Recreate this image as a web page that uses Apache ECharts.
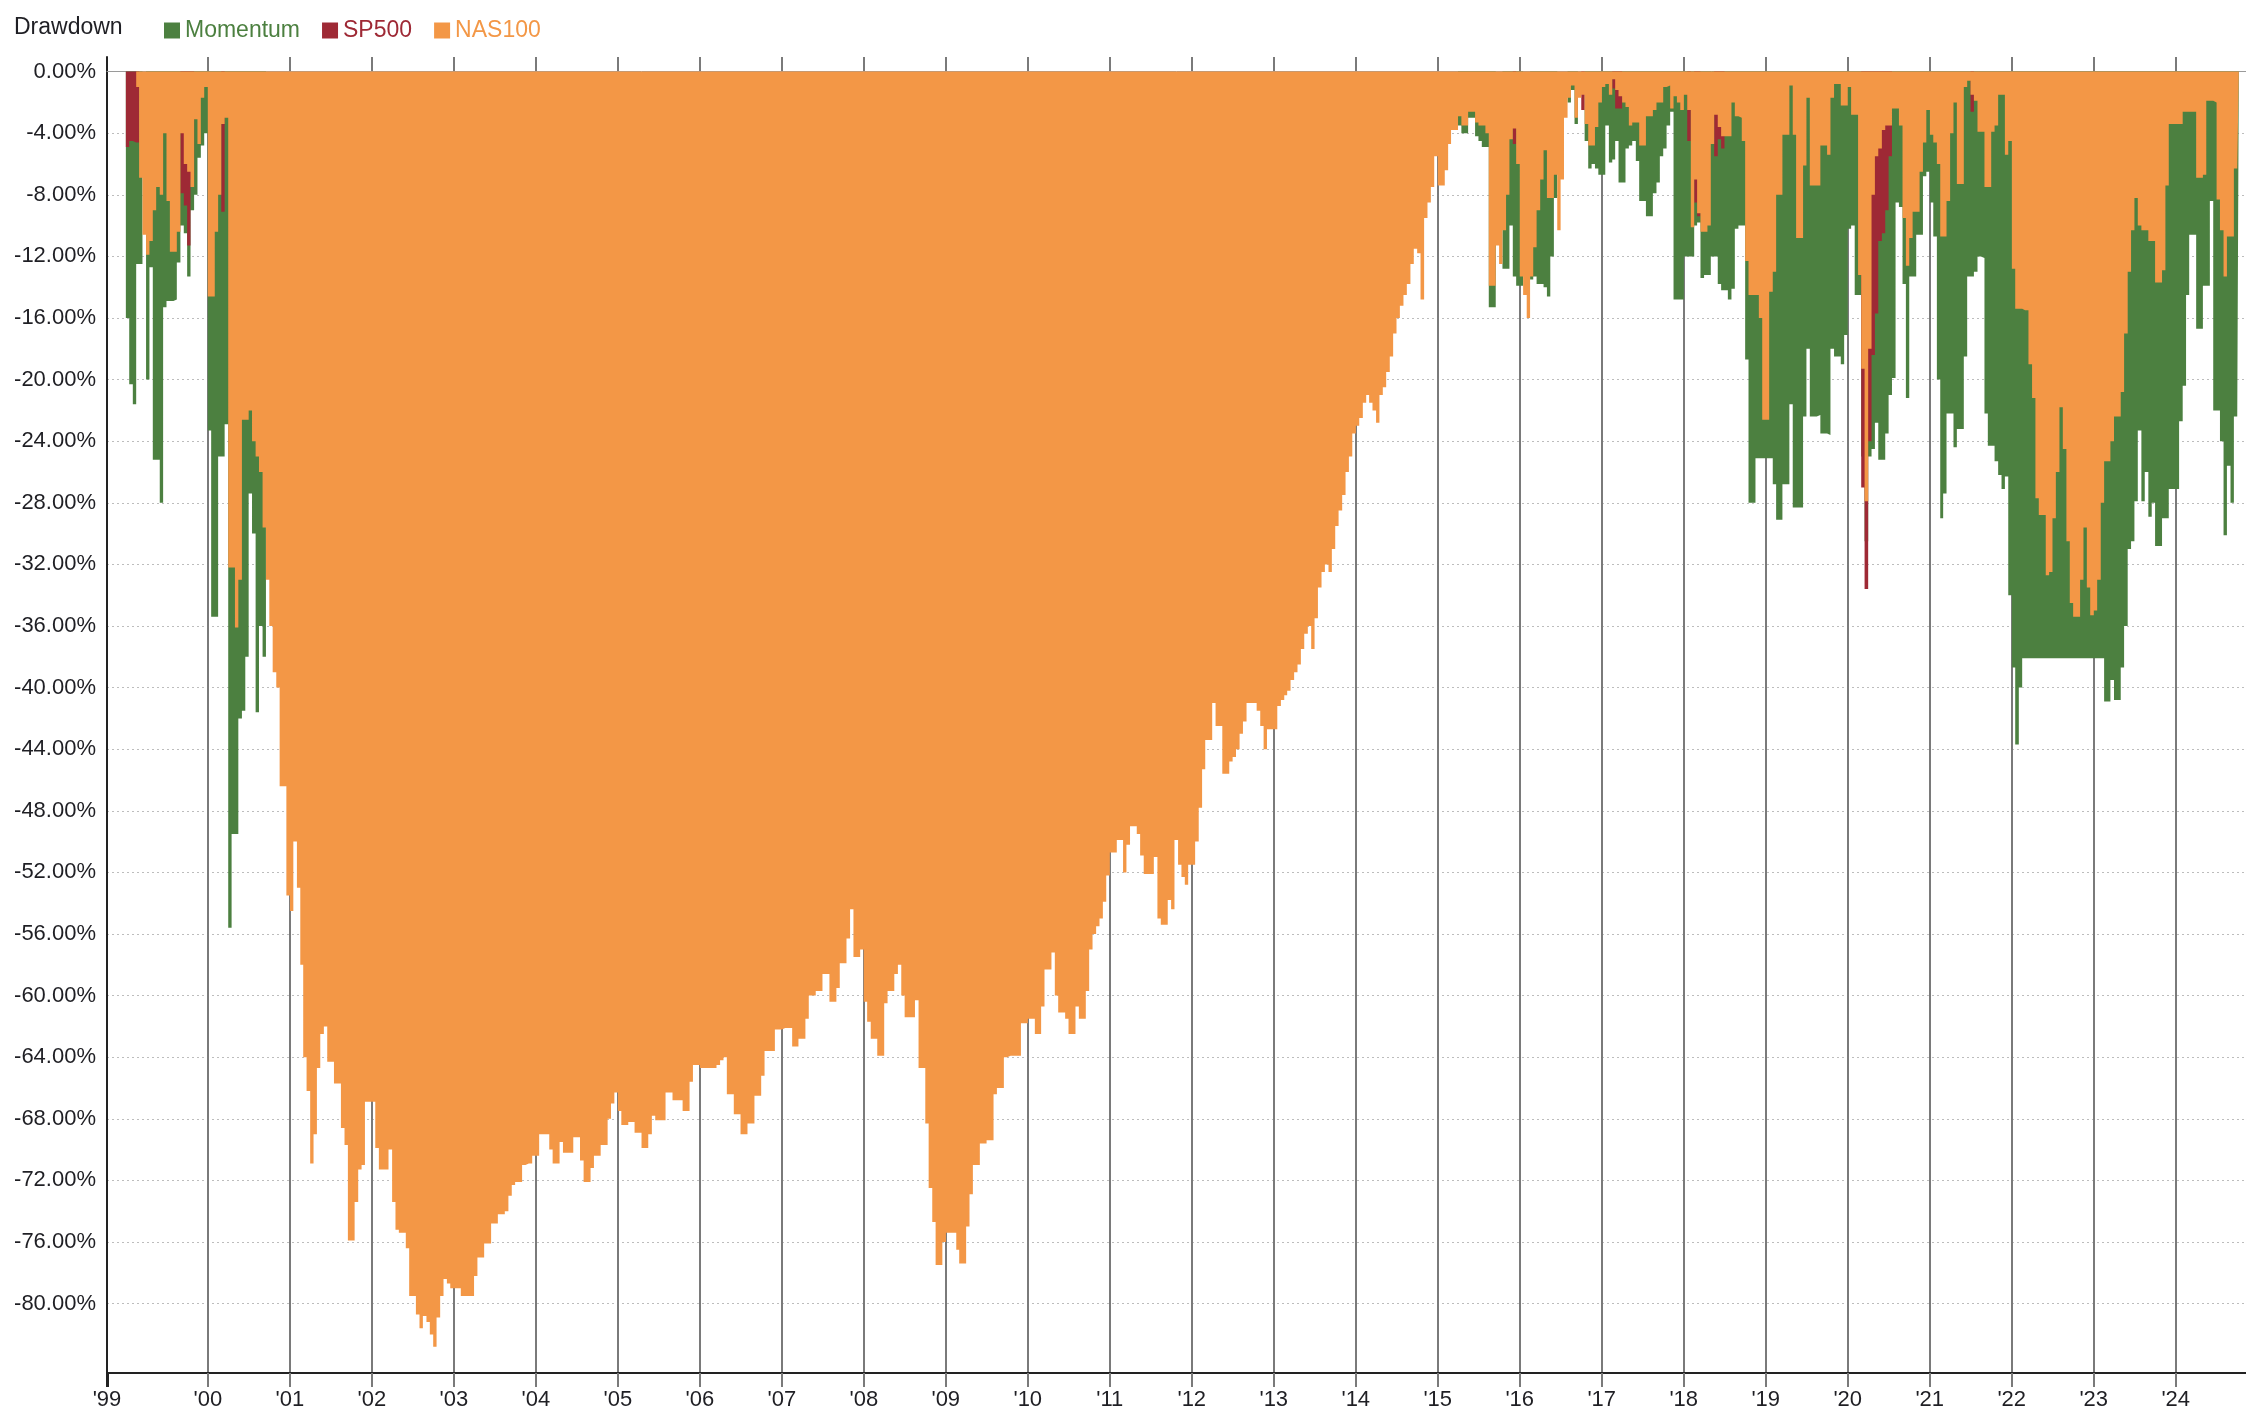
<!DOCTYPE html>
<html><head><meta charset="utf-8">
<style>html,body{margin:0;padding:0;background:#fff}#c{width:2246px;height:1422px}</style>
<script src="https://cdn.jsdelivr.net/npm/echarts@6.0.0/dist/echarts.min.js"></script>
</head><body><div id="c"></div>
<script>
const _ = null;
// semi-monthly sample dates (1st and 16th of each month), Jan 1999 .. Oct 2024
const dates = [];
for (let y = 1999; y <= 2024; y++) for (let m = 0; m < 12; m++) for (const d of [1, 16]) {
  const t = Date.UTC(y, m, d); if (t <= Date.UTC(2024, 9, 1)) dates.push(t);
}
const dataEnd = Date.UTC(2024, 9, 8);
const seriesNames = ['Momentum', 'SP500', 'NAS100'];
const firstYearLabel = "'99";

const nas100 = [
/*1999*/ 0,0,0,-1,-6.9,-10.6,-11.9,-11,-9,-7.5,-8,-4,-8.4,-11.7,-11.7,-10.4,-4,-6,-6.5,-7.5,-3.1,-4.7,-1.7,-1,
/*2000*/ -14.6,-14.6,-10.4,-8,-3.4,-3,-32.2,-32.2,-36.1,-33,-22.6,-22.6,-22,-24,-25,-26,-29.6,-33,-36,-39,-40,-46.4,-46.4,-53.5,
/*2001*/ -54.5,-50,-53,-58,-64,-66.2,-70.9,-69,-64.7,-62.5,-62,-64.3,-64.3,-65.7,-65.7,-68.6,-69.7,-75.9,-75.9,-73.4,-71.3,-71,-66.9,-66.9,
/*2002*/ -66.9,-69.9,-71.3,-71.3,-71.3,-70,-73.4,-75.2,-75.4,-75.4,-76.4,-79.5,-79.5,-80.7,-81.6,-80.8,-81.2,-82,-82.8,-80.9,-79.5,-78.4,-78.7,-79,
/*2003*/ -79,-79,-79.5,-79.5,-79.5,-79.5,-78.2,-77,-77,-76.1,-76.1,-74.8,-74.8,-74.2,-74.2,-74,-73,-72.3,-72.1,-72.1,-71,-70.9,-70.9,-70.4,
/*2004*/ -70.4,-69,-69,-69,-70,-70.9,-70.9,-69.5,-70.2,-70.2,-70.2,-69.2,-69.2,-70.7,-72.1,-72.1,-71.2,-70.4,-70.4,-69.7,-69.7,-68,-67,-66.3,
/*2005*/ -67.5,-68.4,-68.4,-68.2,-68.2,-68.9,-68.9,-69.9,-69.9,-69,-67.8,-68.1,-68.1,-68.1,-66.3,-66.3,-66.8,-66.8,-66.8,-67.5,-67.5,-65.6,-64.5,-64.5,
/*2006*/ -64.7,-64.7,-64.7,-64.7,-64.7,-64.5,-64.2,-64,-66.4,-66.4,-67.7,-67.7,-69,-69,-68.3,-68.3,-66.5,-66.5,-65.2,-63.6,-63.6,-63.6,-62.2,-62.2,
/*2007*/ -62.1,-62.1,-62.1,-63.3,-63.3,-62.8,-62.8,-61.5,-60,-60,-59.7,-59.7,-58.6,-58.6,-60.4,-60.4,-59.5,-57.9,-57.9,-56.3,-54.4,-57.5,-57.5,-57,
/*2008*/ -60.4,-61.7,-62.8,-62.8,-63.9,-63.9,-60.5,-59.7,-59.7,-58.6,-58,-60,-61.4,-61.4,-61.4,-60.3,-64.7,-64.7,-68.3,-72.5,-74.7,-77.5,-77.5,-76,
/*2009*/ -75.4,-75.4,-75.4,-76.5,-77.4,-77.4,-75,-72.9,-71,-71,-69.6,-69.6,-69.4,-69.4,-66.4,-66,-66,-64,-63.9,-63.9,-63.9,-63.9,-61.8,-61.8,
/*2010*/ -61.5,-61.5,-62.5,-62.5,-60.7,-58.3,-58.3,-57.2,-60,-61.1,-61.1,-61.5,-62.5,-62.5,-60.7,-61.5,-61.5,-59.7,-57,-56,-55.5,-55,-53.9,-52.2,
/*2011*/ -50.7,-50.7,-49.9,-49.9,-52,-50.2,-49,-49,-49.5,-50.9,-52.1,-52.1,-52.1,-51,-55,-55.4,-55.4,-53.8,-54.4,-49.9,-51.5,-52.3,-52.8,-51.5,
/*2012*/ -51.5,-50,-47.8,-45.3,-43.4,-43.4,-41,-42.5,-42.5,-45.6,-45.6,-44.8,-44.5,-44,-43,-42.2,-41,-41,-41,-41.5,-42.5,-44,-42.7,-42.7,
/*2013*/ -42.7,-41.2,-40.8,-40.5,-40.2,-39.5,-39,-38.5,-37.5,-36.5,-36,-37.5,-35.5,-33.5,-32.5,-32,-32.5,-31,-29.5,-28.5,-27.5,-26,-25,-23.5,
/*2014*/ -23,-22.5,-21.5,-21,-21.5,-22,-22.8,-21,-20.5,-19.5,-18.5,-17,-16,-15.2,-14.5,-13.8,-12.5,-11.5,-11.8,-14.8,-9.5,-8.5,-7.5,-5.5,
/*2015*/ -7.4,-7.4,-6.4,-4.7,-3.8,-3.8,-2.9,-3.5,-3.5,-2.6,-2.6,-3.3,-3.5,-3.5,-4,-13.9,-13.9,-11.3,-12.5,-10.3,-8,-4.4,-3.7,-6,
/*2016*/ -13.3,-14.5,-16,-13.3,-11.4,-9,-7,-5.1,-8.2,-8.2,-6.7,-10.3,-7,-3,-1.7,-0.9,-3,-1.7,-1.5,-3.4,-4.8,-4.8,-3.6,-2,
/*2017*/ -1,-0.8,-1.5,-0.5,-1.2,-1.6,-2,-2.3,-3.5,-3.3,-3.3,-4.8,-4.8,-2.9,-2.9,-2.5,-2,-2,-1,-0.9,-2.4,-1.6,-2,-2.5,
/*2018*/ -1.5,-2.5,-10.1,-7,-9.2,-10.4,-10.4,-10,-4.7,-2.8,-3.6,-4.2,-4.2,-4.2,-2,-2.9,-3,-4.5,-12.3,-14.5,-14.5,-14.5,-16,-22.6,
/*2019*/ -22.6,-14.3,-13,-8,-8,-4.1,-4.1,-0.9,-4.1,-10.8,-10.8,-6.1,-1.7,-7.4,-7.4,-7.4,-4.8,-4.8,-5.4,-1.7,-0.8,-0.8,-2.2,-2.2,
/*2020*/ -1,-2.8,-2.8,-13.2,-19.3,-27.9,-18,-8,-5.5,-5,-3.8,-3.5,-3.5,-2.4,-2.4,-3.5,-9.5,-12.6,-10.8,-9.1,-9.1,-6.5,-4.6,-2.5,
/*2021*/ -4.1,-4.6,-6,-10.7,-10.7,-8.4,-4,-2,-7.3,-7.3,-1,-0.6,-1.5,-1.9,-3.9,-3.9,-7.5,-7.5,-3.9,-3.5,-1.5,-1.5,-5.4,-4.5,
/*2022*/ -12.8,-15.4,-15.4,-15.5,-15.5,-19,-21.2,-27.7,-28.8,-28.8,-32.7,-32.5,-29,-26,-21.8,-24.5,-30.5,-34.5,-35.4,-35.4,-33,-29.6,-33.5,-35.3,
/*2023*/ -35,-33,-28,-25.3,-25.3,-24,-22.4,-22.4,-20.8,-17,-13,-10.3,-8.2,-10,-10.3,-10.3,-11,-11,-13.7,-13.7,-12.9,-7.4,-3.4,-3.4,
/*2024*/ -3.4,-3.4,-2.6,-2.6,-2.6,-2.6,-6.9,-6.9,-6.7,-1.9,-1.9,-2,-8.3,-10.3,-13.3,-10.7,-10.7,-6.3,-6.3
];

// Momentum: null where it is fully hidden behind the other series
const momentum = [
/*1999*/ -16,-20.3,-21.6,-12.5,-12.5,_,-20,-12.7,-25.2,-25.2,-28,-15.3,-14.9,-14.9,-14.8,-12.4,-10,-10.5,-13.3,-9,-8,-5.6,-4.8,-4,
/*2000*/ -23.3,-35.4,-35.4,-25,-25,-22.9,-55.6,-49.5,-49.5,-42,-41.5,-38,-27.4,-30,-41.6,-36,-38,_,_,_,_,_,_,_,
/*2001*/ _,_,_,_,_,_,_,_,_,_,_,_,_,_,_,_,_,_,_,_,_,_,_,_,
/*2002*/ _,_,_,_,_,_,_,_,_,_,_,_,_,_,_,_,_,_,_,_,_,_,_,_,
/*2003*/ _,_,_,_,_,_,_,_,_,_,_,_,_,_,_,_,_,_,_,_,_,_,_,_,
/*2004*/ _,_,_,_,_,_,_,_,_,_,_,_,_,_,_,_,_,_,_,_,_,_,_,_,
/*2005*/ _,_,_,_,_,_,_,_,_,_,_,_,_,_,_,_,_,_,_,_,_,_,_,_,
/*2006*/ _,_,_,_,_,_,_,_,_,_,_,_,_,_,_,_,_,_,_,_,_,_,_,_,
/*2007*/ _,_,_,_,_,_,_,_,_,_,_,_,_,_,_,_,_,_,_,_,_,_,_,_,
/*2008*/ _,_,_,_,_,_,_,_,_,_,_,_,_,_,_,_,_,_,_,_,_,_,_,_,
/*2009*/ _,_,_,_,_,_,_,_,_,_,_,_,_,_,_,_,_,_,_,_,_,_,_,_,
/*2010*/ _,_,_,_,_,_,_,_,_,_,_,_,_,_,_,_,_,_,_,_,_,_,_,_,
/*2011*/ _,_,_,_,_,_,_,_,_,_,_,_,_,_,_,_,_,_,_,_,_,_,_,_,
/*2012*/ _,_,_,_,_,_,_,_,_,_,_,_,_,_,_,_,_,_,_,_,_,_,_,_,
/*2013*/ _,_,_,_,_,_,_,_,_,_,_,_,_,_,_,_,_,_,_,_,_,_,_,_,
/*2014*/ _,_,_,_,_,_,_,_,_,_,_,_,_,_,_,_,_,_,_,_,_,_,_,_,
/*2015*/ _,_,_,_,_,_,-3.5,-4,-4,-3,-3,-4.2,-4.5,-4.9,-4.9,-15.3,-15.3,_,_,-12.8,-12.8,-10,-13.3,-13.9,
/*2016*/ -13.9,_,_,-13.5,-13.3,-13.8,-13.8,-14,-14.6,-12,-8.2,_,_,_,-2,-1.2,-3.4,_,_,-4.5,-6.3,-6,-6.3,-6.7,
/*2017*/ -6.7,-3.5,-5.9,-5.7,-4.5,-7.2,-7.2,-5,-4.8,-4.5,-5.8,-8.4,-8.4,-9.4,-9.4,-7.9,-7.2,-5.5,-5,-3.5,-2.6,-14.8,-14.8,-14.8,
/*2018*/ -12,-12,-12,-10,-9.8,-13.4,-13.2,-13.2,-12,-12,-13.8,-14.2,-14.2,-14.8,-14.1,-10.2,-10,-10,-18.7,-28,-28,-25.1,-25.1,-25.1,
/*2019*/ -25.1,-25.1,-26.8,-29.1,-29.1,-26.8,-26.8,-21.6,-28.3,-28.3,-28.3,-22.4,-18,-22.4,-22.4,-22.3,-23.5,-23.5,-23.6,-18,-18.5,-18.5,-19,-17.1,
/*2020*/ -10.2,-10,-14.5,-14.5,-25,-30.5,-25,-24.5,-22.8,-25.2,-25.2,-23.5,-21,-19.9,-8.5,-8.8,-13.8,-21.2,-13.3,-13.3,-10.6,-10.6,-6.8,-6.5,
/*2021*/ -8.5,-10.7,-20,-29,-27.4,-22.2,-22.2,-24.4,-23.2,-23.2,-18.5,-13.3,-13.3,-13,-12,-12.1,-22.2,-24.3,-24.3,-25.3,-26.2,-27.1,-26.3,-34,
/*2022*/ -38.7,-43.7,-40,-38.1,-38.1,-38.1,-38.1,-38.1,-38.1,-38.1,-38.1,-38.1,-38.1,-38.1,-38.1,-38.1,-38.1,-38.1,-38.1,-38.1,-38.1,-38.1,-38.1,-38.1,
/*2023*/ -38.1,-38.1,-38.1,-40.9,-40.9,-39.5,-40.8,-40.8,-38.7,-36,-31,-30.5,-27.9,-23.3,-27.9,-26,-28.9,-28,-30.8,-30.8,-29,-29,-27.1,-27.1,
/*2024*/ -27.1,-22.7,-20.4,-14.5,-10.6,-10.6,-16.7,-16.7,-13.9,-13.9,-8.4,-22,-22,-24,-30.1,-25.6,-28,-22.4,-22.4
];

// SP500: null where it is fully hidden behind NAS100
const sp500 = [
/*1999*/ -4.9,-4.5,-4.6,-4.6,_,_,_,_,_,_,_,_,_,_,_,_,-7.9,-8.7,-11.3,-7,_,_,_,_,
/*2000*/ _,_,_,_,-9.1,_,_,_,_,_,_,_,_,_,_,_,_,_,_,_,_,_,_,_,
/*2001*/ _,_,_,_,_,_,_,_,_,_,_,_,_,_,_,_,_,_,_,_,_,_,_,_,
/*2002*/ _,_,_,_,_,_,_,_,_,_,_,_,_,_,_,_,_,_,_,_,_,_,_,_,
/*2003*/ _,_,_,_,_,_,_,_,_,_,_,_,_,_,_,_,_,_,_,_,_,_,_,_,
/*2004*/ _,_,_,_,_,_,_,_,_,_,_,_,_,_,_,_,_,_,_,_,_,_,_,_,
/*2005*/ _,_,_,_,_,_,_,_,_,_,_,_,_,_,_,_,_,_,_,_,_,_,_,_,
/*2006*/ _,_,_,_,_,_,_,_,_,_,_,_,_,_,_,_,_,_,_,_,_,_,_,_,
/*2007*/ _,_,_,_,_,_,_,_,_,_,_,_,_,_,_,_,_,_,_,_,_,_,_,_,
/*2008*/ _,_,_,_,_,_,_,_,_,_,_,_,_,_,_,_,_,_,_,_,_,_,_,_,
/*2009*/ _,_,_,_,_,_,_,_,_,_,_,_,_,_,_,_,_,_,_,_,_,_,_,_,
/*2010*/ _,_,_,_,_,_,_,_,_,_,_,_,_,_,_,_,_,_,_,_,_,_,_,_,
/*2011*/ _,_,_,_,_,_,_,_,_,_,_,_,_,_,_,_,_,_,_,_,_,_,_,_,
/*2012*/ _,_,_,_,_,_,_,_,_,_,_,_,_,_,_,_,_,_,_,_,_,_,_,_,
/*2013*/ _,_,_,_,_,_,_,_,_,_,_,_,_,_,_,_,_,_,_,_,_,_,_,_,
/*2014*/ _,_,_,_,_,_,_,_,_,_,_,_,_,_,_,_,_,_,_,_,_,_,_,_,
/*2015*/ _,_,_,_,_,_,_,_,_,_,_,_,_,_,_,_,_,_,_,_,_,_,-4.7,_,
/*2016*/ _,_,_,_,_,_,_,_,_,_,_,_,_,_,_,_,_,_,-2.5,_,_,_,_,_,
/*2017*/ _,_,_,-1.1,-2.4,-2.4,_,_,_,_,_,_,_,_,_,_,_,_,_,_,_,_,_,_,
/*2018*/ _,-4.5,_,-8.5,-9.4,_,_,_,_,-5.5,-4.4,-5,_,_,_,_,_,_,_,_,_,_,_,_,
/*2019*/ _,_,_,_,_,_,_,_,_,_,_,_,_,_,_,_,_,_,_,_,_,_,_,_,
/*2020*/ _,_,_,_,-27,-33.6,-24,-18.4,-15.7,-11,-10.5,-9,-5.5,_,_,_,_,_,_,_,_,_,_,_,
/*2021*/ _,_,_,_,_,_,_,_,_,_,_,_,-2.6,_,_,_,_,_,_,_,_,_,_,_,
/*2022*/ _,_,_,_,_,_,_,_,_,_,_,_,_,_,_,_,_,_,_,_,_,_,_,_,
/*2023*/ _,_,_,_,_,_,_,_,_,_,_,_,_,_,_,_,_,_,_,_,_,_,_,_,
/*2024*/ _,_,_,_,_,_,_,_,_,_,_,_,_,_,_,_,_,_,_
];

[nas100, momentum, sp500].forEach((a, k) => {
  if (a.length !== dates.length) throw new Error('length mismatch ' + k + ': ' + a.length + ' vs ' + dates.length);
});

const COLORS = { Momentum: '#4c8040', SP500: '#9e2935', NAS100: '#f39746' };
const W = 2246, H = 1422;
const plotLeft = 107, plotTop = 57, plotBottom = 1373;
const zeroY = 71.6, pxPerPct = 15.4;
const axisMin = Date.UTC(1998, 9, 9), axisMax = Date.UTC(2024, 10, 9);
const xPx = t => plotLeft + (t - axisMin) / (axisMax - axisMin) * (W - plotLeft);
const yMax = (zeroY - plotTop) / pxPerPct, yMin = -(plotBottom - zeroY) / pxPerPct;
const firstYear = 2000, lastYear = 2024;

// each sample spans from its date to the next date (bar-like steps)
function toSteps(vals) {
  const out = [];
  for (let i = 0; i < vals.length; i++) {
    const v = vals[i];
    if (v === null) { out.push([dates[i], null]); continue; }
    const end = i + 1 < dates.length ? dates[i + 1] : dataEnd;
    out.push([dates[i], v], [end, v]);
  }
  return out;
}
const mk = (name, vals) => ({
  name, type: 'line', xAxisIndex: 0, yAxisIndex: 0, data: toSteps(vals),
  showSymbol: false, symbol: 'none', connectNulls: false, silent: true,
  lineStyle: { width: 0, color: COLORS[name] }, itemStyle: { color: COLORS[name] },
  areaStyle: { color: COLORS[name], opacity: 1 }, emphasis: { disabled: true }
});

const FONT = '"Liberation Sans", Arial, sans-serif';
const TXT = '#1f1f24';
const yearLeft = xPx(Date.UTC(firstYear, 0, 1)), yearRight = xPx(Date.UTC(lastYear, 0, 1));
const option = {
  animation: false,
  textStyle: { fontFamily: FONT },
  title: { text: 'Drawdown', left: 14, top: 16, padding: 0,
    textStyle: { fontSize: 23, fontWeight: 'normal', color: TXT, fontFamily: FONT } },
  legend: { left: 164, top: 19, padding: 0, itemGap: 22, itemWidth: 16, itemHeight: 16, icon: 'rect',
    selectedMode: false, textStyle: { fontSize: 23, fontFamily: FONT },
    data: seriesNames.map(n => ({ name: n, textStyle: { color: COLORS[n] } })) },
  grid: [
    { left: plotLeft, right: 0, top: plotTop, bottom: H - plotBottom },
    { left: plotLeft, right: 0, top: zeroY, bottom: H - (zeroY + 80 * pxPerPct) },
    { left: yearLeft, width: yearRight - yearLeft, top: plotTop, bottom: H - plotBottom },
    { left: plotLeft, width: 1, top: plotTop, bottom: H - plotBottom }
  ],
  xAxis: [
    { type: 'time', gridIndex: 0, min: axisMin, max: axisMax,
      axisLine: { show: true, onZero: false, lineStyle: { color: '#222', width: 2 } },
      axisTick: { show: false }, axisLabel: { show: false }, splitLine: { show: false } },
    { type: 'value', gridIndex: 1, position: 'top', min: 0, max: 1,
      axisLine: { show: true, onZero: false, lineStyle: { color: '#9a9a9a', width: 1 } },
      axisTick: { show: false }, axisLabel: { show: false }, splitLine: { show: false } },
    { type: 'value', gridIndex: 2, min: firstYear, max: lastYear, interval: 1,
      axisLine: { show: false, onZero: false },
      axisTick: { show: true, length: 14, lineStyle: { color: '#7a7a7a', width: 2 } },
      axisLabel: { fontSize: 22, color: TXT, margin: 16, fontFamily: FONT,
        formatter: v => "'" + String(Math.round(v)).slice(2) },
      splitLine: { show: true, lineStyle: { color: '#7a7a7a', width: 2, type: 'solid' } } },
    { type: 'value', gridIndex: 3, min: 0, max: 1, interval: 1,
      axisLine: { show: false, onZero: false },
      axisTick: { show: true, length: 14, lineStyle: { color: '#222', width: 2 } },
      axisLabel: { fontSize: 22, color: TXT, margin: 16, fontFamily: FONT,
        formatter: v => (v === 0 ? firstYearLabel : '') },
      splitLine: { show: false } }
  ],
  yAxis: [
    { type: 'value', gridIndex: 0, min: yMin, max: yMax,
      axisLine: { show: true, onZero: false, lineStyle: { color: '#222', width: 2 } },
      axisTick: { show: false }, axisLabel: { show: false }, splitLine: { show: false } },
    { type: 'value', gridIndex: 1, min: -80, max: 0, interval: 4,
      axisLine: { show: false, onZero: false }, axisTick: { show: false },
      axisLabel: { fontSize: 22, color: TXT, margin: 11, fontFamily: FONT, formatter: v => v.toFixed(2) + '%' },
      splitLine: { show: true, lineStyle: { color: '#bdbdbd', width: 1, type: [2, 3] } } },
    { type: 'value', gridIndex: 2, min: 0, max: 1, show: false },
    { type: 'value', gridIndex: 3, min: 0, max: 1, show: false }
  ],
  series: [mk('Momentum', momentum), mk('SP500', sp500), mk('NAS100', nas100)]
};
const chart = echarts.init(document.getElementById('c'), null, { renderer: 'canvas', width: W, height: H });
chart.setOption(option);
</script>
</body></html>
